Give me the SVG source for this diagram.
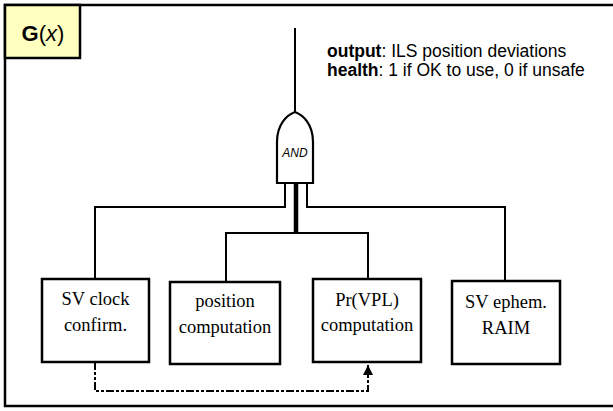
<svg xmlns="http://www.w3.org/2000/svg" width="613" height="411" viewBox="0 0 613 411">
  <defs>
    <style>
      .frame { fill: #ffffff; stroke: #000; stroke-width: 2.5; }
      .title { fill: #ffffc0; stroke: #000; stroke-width: 2.5; }
      .box { fill: #ffffff; stroke: #000; stroke-width: 2.5; }
      .wire { fill: none; stroke: #000; stroke-width: 2; }
      .thick { fill: none; stroke: #000; stroke-width: 4.5; }
      .dash { fill: none; stroke: #000; stroke-width: 2; stroke-dasharray: 8 2 3 2 3 2; }
      .gate { fill: #ffffff; stroke: #000; stroke-width: 2.2; }
      .lbl { font-family: "Liberation Serif", "Times New Roman", serif; font-size: 18.5px; text-anchor: middle; fill: #000; }
      .note { font-family: "Liberation Sans", Arial, sans-serif; font-size: 17.5px; fill: #000; }
    </style>
    <marker id="arr" viewBox="0 0 10 10" refX="10" refY="5" markerWidth="10" markerHeight="10" markerUnits="userSpaceOnUse" orient="auto">
      <path d="M0,0 L10,5 L0,10 Z" fill="#000"/>
    </marker>
  </defs>

  <rect class="frame" x="5" y="5" width="640" height="401"/>

  <g id="title">
    <rect class="title" x="5" y="5" width="75" height="53"/>
    <text x="43" y="41" text-anchor="middle" font-family="Liberation Sans, Arial, sans-serif" font-size="22"><tspan font-weight="bold">G</tspan>(<tspan font-style="italic">x</tspan>)</text>
  </g>

  <g id="notes">
    <text class="note" x="327" y="57"><tspan font-weight="bold">output</tspan>: ILS position deviations</text>
    <text class="note" x="327" y="76"><tspan font-weight="bold">health</tspan>: 1 if OK to use, 0 if unsafe</text>
  </g>

  <g id="connectors">
    <line class="wire" x1="295" y1="28" x2="295" y2="113"/>
    <polyline class="wire" points="285,183 285,207 95,207 95,279"/>
    <polyline class="wire" points="307,183 307,207 505,207 505,281"/>
    <line class="thick" x1="296" y1="183" x2="296" y2="234"/>
    <polyline class="wire" points="226,282 226,233 368,233 368,279"/>
    <polyline class="dash" points="95,362 95,391 368,391 368,365" marker-end="url(#arr)"/>
  </g>

  <g id="and-gate">
    <path class="gate" d="M277,183 L277,142 C277,124 287,115 295,112 C303,115 313,124 313,142 L313,183 Z"/>
    <text x="295" y="157" text-anchor="middle" font-family="Liberation Sans, Arial, sans-serif" font-size="12" font-style="italic">AND</text>
  </g>

  <g id="sv-clock">
    <rect class="box" x="42" y="279" width="107" height="83"/>
    <text class="lbl" x="95.5" y="305">SV clock</text>
    <text class="lbl" x="95.5" y="331">confirm.</text>
  </g>

  <g id="position">
    <rect class="box" x="170" y="282" width="110" height="82"/>
    <text class="lbl" x="225" y="307">position</text>
    <text class="lbl" x="225" y="333">computation</text>
  </g>

  <g id="prvpl">
    <rect class="box" x="313" y="279" width="108" height="83"/>
    <text class="lbl" x="367" y="306">Pr(VPL)</text>
    <text class="lbl" x="367" y="331">computation</text>
  </g>

  <g id="sv-ephem">
    <rect class="box" x="452" y="281" width="108" height="83"/>
    <text class="lbl" x="506" y="308">SV ephem.</text>
    <text class="lbl" x="506" y="334">RAIM</text>
  </g>
</svg>
